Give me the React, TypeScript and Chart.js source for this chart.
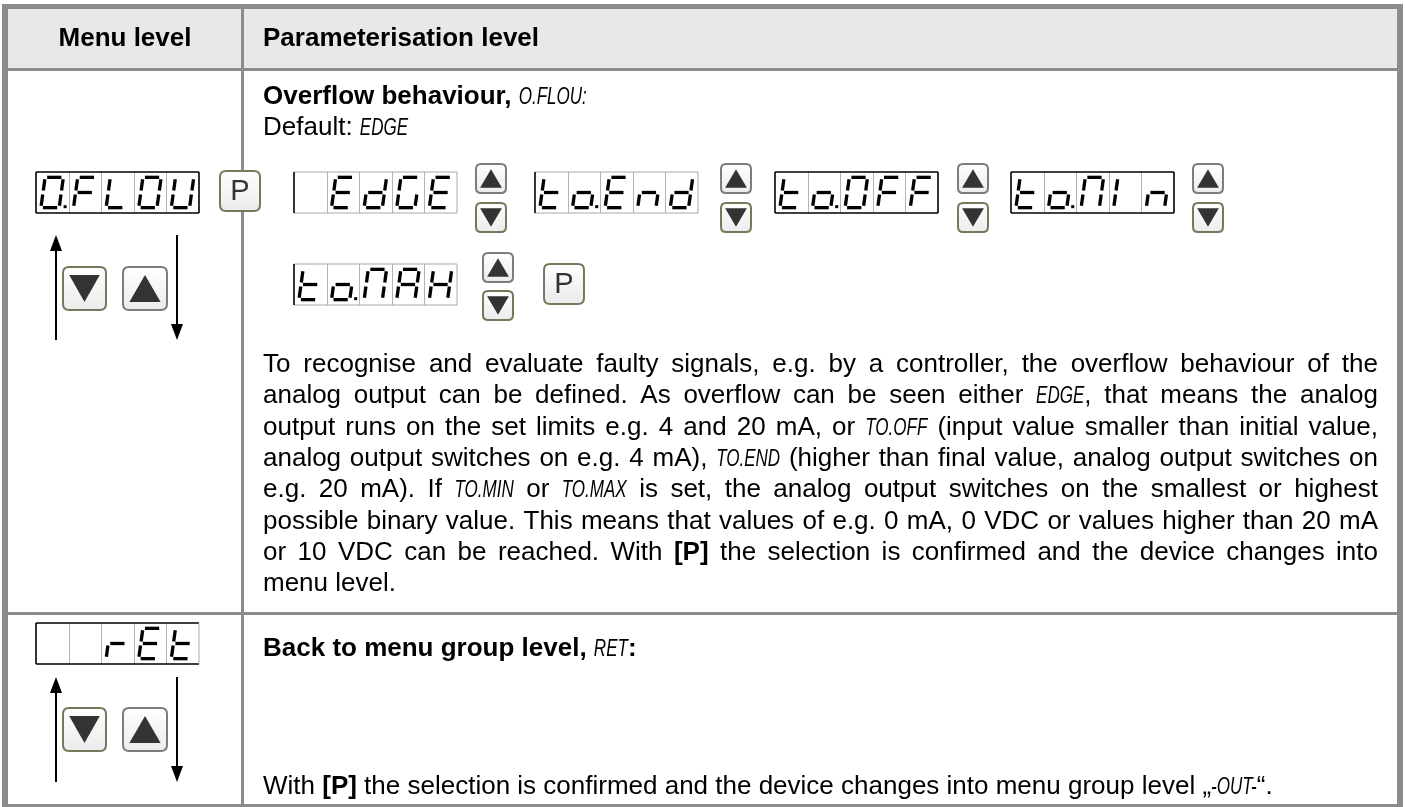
import React, { useEffect, useRef } from "react";
import { Chart, registerables } from "chart.js";

Chart.register(...registerables);

// ---------------- data ----------------
const headerLabels = ["Menu level", "Parameterisation level"];
const menuCodes = ["O.FLOU", "  rEt"];
const optionCodes = [" EdGE", "to.End", "to.OFF", "to.MIn"];
const optionCodesRow2 = ["to.MAH"];
const optionBorders = ["light", "light", "black", "black"];
const row1Title = "*Overflow behaviour,* {O.FLOU:}";
const row1Default = "Default: {EDGE}";
const paragraphLines = [
  "To recognise and evaluate faulty signals, e.g. by a controller, the overflow behaviour of the",
  "analog output can be defined. As overflow can be seen either {EDGE}, that means the analog",
  "output runs on the set limits e.g. 4 and 20 mA, or {TO.OFF} (input value smaller than initial value,",
  "analog output switches on e.g. 4 mA), {TO.END} (higher than final value, analog output switches on",
  "e.g. 20 mA). If {TO.MIN} or {TO.MAX} is set, the analog output switches on the smallest or highest",
  "possible binary value. This means that values of e.g. 0 mA, 0 VDC or values higher than 20 mA",
  "or 10 VDC can be reached. With *[P]* the selection is confirmed and the device changes into",
  "menu level.",
];
const row2Title = "*Back to menu group level,* {RET}*:*";
const row2Last = "With *[P]* the selection is confirmed and the device changes into menu group level \u201E{-OUT-}\u201C.";

const segMap: Record<string, string> = {
  "0": "abcdef", O: "abcdef", F: "aefg", L: "def", U: "bcdef", E: "adefg",
  d: "bcdeg", G: "acdef", t: "defg", o: "cdeg", n: "ceg", M: "abcef",
  I: "ef", A: "abcefg", H: "bcefg", r: "eg", " ": "",
};

// ---------------- layout ----------------
const W = 1405;
const H = 807;
const FONT = '"Liberation Sans", Arial, sans-serif';
const FS = 26;
const LINE = 31.3;
const TEXT_X = 263;
const TEXT_R = 1378;
const GRID = "#8c8c8c";

type Run = { text: string; style: "n" | "b" | "l" };

function parseRuns(s: string): Run[] {
  const parts = s.split(/(\{[^}]*\}|\*[^*]*\*)/).filter((p) => p.length);
  return parts.map((p) => {
    if (p.startsWith("{")) return { text: p.slice(1, -1), style: "l" as const };
    if (p.startsWith("*")) return { text: p.slice(1, -1), style: "b" as const };
    return { text: p, style: "n" as const };
  });
}

function setFont(ctx: CanvasRenderingContext2D, style: string) {
  if (style === "b") ctx.font = `bold ${FS}px ${FONT}`;
  else if (style === "l") ctx.font = `italic ${FS - 3}px ${FONT}`;
  else ctx.font = `${FS}px ${FONT}`;
}
const LCD_SX = 0.74;

function runWidth(ctx: CanvasRenderingContext2D, r: Run) {
  setFont(ctx, r.style);
  const w = ctx.measureText(r.text).width;
  return r.style === "l" ? w * LCD_SX : w;
}

function drawRun(ctx: CanvasRenderingContext2D, r: Run, x: number, y: number) {
  setFont(ctx, r.style);
  if (r.style === "l") {
    ctx.save();
    ctx.translate(x, y);
    ctx.scale(LCD_SX, 1);
    ctx.fillText(r.text, 0, 0);
    ctx.restore();
  } else ctx.fillText(r.text, x, y);
}

function drawLine(ctx: CanvasRenderingContext2D, s: string, x: number, yc: number, justifyTo: number | null) {
  const runs = parseRuns(s);
  const words: Run[][] = [[]];
  runs.forEach((r) => {
    const pieces = r.text.split(" ");
    pieces.forEach((p, i) => {
      if (i > 0) words.push([]);
      if (p.length) words[words.length - 1].push({ text: p, style: r.style });
    });
  });
  const ws = words.filter((w) => w.length);
  setFont(ctx, "n");
  const sp = ctx.measureText(" ").width;
  const widths = ws.map((w) => w.reduce((a, r) => a + runWidth(ctx, r), 0));
  const natural = widths.reduce((a, b) => a + b, 0) + sp * (ws.length - 1);
  let gap = sp;
  if (justifyTo !== null && ws.length > 1) gap = sp + (justifyTo - x - natural) / (ws.length - 1);
  let cx = x;
  const base = yc + 8;
  ctx.fillStyle = "#000";
  ctx.textBaseline = "alphabetic";
  ws.forEach((w) => {
    w.forEach((r) => {
      drawRun(ctx, r, cx, base);
      cx += runWidth(ctx, r);
    });
    cx += gap;
  });
}

function drawDisplay(ctx: CanvasRenderingContext2D, x: number, y: number, w: number, h: number, code: string, border: string) {
  const cells: { ch: string; dp: boolean }[] = [];
  for (const c of code) {
    if (c === "." && cells.length) cells[cells.length - 1].dp = true;
    else cells.push({ ch: c, dp: false });
  }
  const cw = w / 5;
  ctx.fillStyle = "#fff";
  ctx.fillRect(x, y, w, h);
  ctx.strokeStyle = "#b4b4b4";
  ctx.lineWidth = 1;
  for (let i = 1; i < 5; i++) {
    ctx.beginPath();
    ctx.moveTo(Math.round(x + i * cw) + 0.5, y);
    ctx.lineTo(Math.round(x + i * cw) + 0.5, y + h);
    ctx.stroke();
  }
  const edge = (x0: number, y0: number, x1: number, y1: number, col: string) => {
    ctx.strokeStyle = col;
    ctx.lineWidth = col === "#000" ? 1.6 : 1;
    ctx.beginPath();
    ctx.moveTo(x0, y0);
    ctx.lineTo(x1, y1);
    ctx.stroke();
  };
  const blk = "#000";
  const lt = "#a8a8a8";
  edge(x, y, x + w, y, border === "black" || border === "mixed" ? blk : lt);
  edge(x, y + h, x + w, y + h, border === "black" || border === "mixed" ? blk : lt);
  edge(x + w, y, x + w, y + h, border === "black" ? blk : lt);
  edge(x, y, x, y + h, blk);

  cells.forEach((cell, i) => {
    const cx = x + i * cw;
    const segs = segMap[cell.ch] ?? "";
    const gw = cw * 0.56;
    const gh = h * 0.74;
    const gx = cx + cw * 0.15;
    const gy = y + h * 0.13;
    const sl = 0.14;
    const P = (px: number, py: number): [number, number] => [gx + px + (gh - py) * sl, gy + py];
    const g = 2;
    const defs: Record<string, [number, number, number, number]> = {
      a: [g, 0, gw - g, 0],
      b: [gw, g, gw, gh / 2 - g],
      c: [gw, gh / 2 + g, gw, gh - g],
      d: [g, gh, gw - g, gh],
      e: [0, gh / 2 + g, 0, gh - g],
      f: [0, g, 0, gh / 2 - g],
      g: [g, gh / 2, gw - g, gh / 2],
    };
    ctx.strokeStyle = "#000";
    ctx.lineWidth = 3.3;
    ctx.lineCap = "butt";
    for (const s of segs) {
      const d = defs[s];
      const p0 = P(d[0], d[1]);
      const p1 = P(d[2], d[3]);
      ctx.beginPath();
      ctx.moveTo(p0[0], p0[1]);
      ctx.lineTo(p1[0], p1[1]);
      ctx.stroke();
    }
    if (cell.dp) {
      ctx.fillStyle = "#000";
      ctx.fillRect(cx + cw - 5, gy + gh - 2.5, 3, 3);
    }
  });
}

function roundRect(ctx: CanvasRenderingContext2D, x: number, y: number, w: number, h: number, r: number) {
  ctx.beginPath();
  ctx.moveTo(x + r, y);
  ctx.lineTo(x + w - r, y);
  ctx.quadraticCurveTo(x + w, y, x + w, y + r);
  ctx.lineTo(x + w, y + h - r);
  ctx.quadraticCurveTo(x + w, y + h, x + w - r, y + h);
  ctx.lineTo(x + r, y + h);
  ctx.quadraticCurveTo(x, y + h, x, y + h - r);
  ctx.lineTo(x, y + r);
  ctx.quadraticCurveTo(x, y, x + r, y);
  ctx.closePath();
}

function drawButtonFrame(ctx: CanvasRenderingContext2D, x: number, y: number, w: number, h: number, col: string) {
  const gr = ctx.createLinearGradient(0, y, 0, y + h);
  gr.addColorStop(0, "#ffffff");
  gr.addColorStop(1, "#ebebeb");
  roundRect(ctx, x + 1, y + 1, w - 2, h - 2, Math.min(6, w * 0.16));
  ctx.fillStyle = gr;
  ctx.fill();
  ctx.strokeStyle = col;
  ctx.lineWidth = 2;
  ctx.stroke();
}

function drawTriBtn(ctx: CanvasRenderingContext2D, x: number, y: number, w: number, h: number, up: boolean) {
  drawButtonFrame(ctx, x, y, w, h, up ? "#7c7c7c" : "#77775b");
  const cx = x + w / 2;
  const tw = w * 0.68;
  const t0 = y + h * 0.2;
  const t1 = y + h * 0.8;
  ctx.fillStyle = "#333";
  ctx.beginPath();
  if (up) {
    ctx.moveTo(cx, t0);
    ctx.lineTo(cx - tw / 2, t1);
    ctx.lineTo(cx + tw / 2, t1);
  } else {
    ctx.moveTo(cx, t1);
    ctx.lineTo(cx - tw / 2, t0);
    ctx.lineTo(cx + tw / 2, t0);
  }
  ctx.closePath();
  ctx.fill();
}

function drawPBtn(ctx: CanvasRenderingContext2D, x: number, y: number, s: number) {
  drawButtonFrame(ctx, x, y, s, s, "#77775b");
  ctx.fillStyle = "#333";
  ctx.font = `${Math.round(s * 0.68)}px ${FONT}`;
  ctx.textAlign = "center";
  ctx.textBaseline = "middle";
  ctx.fillText("P", x + s / 2, y + s / 2 + 1);
  ctx.textAlign = "left";
  ctx.textBaseline = "alphabetic";
}

function drawVArrow(ctx: CanvasRenderingContext2D, x: number, y0: number, y1: number, up: boolean) {
  ctx.strokeStyle = "#000";
  ctx.lineWidth = 2;
  ctx.beginPath();
  if (up) {
    ctx.moveTo(x, y0 + 12);
    ctx.lineTo(x, y1);
  } else {
    ctx.moveTo(x, y0);
    ctx.lineTo(x, y1 - 12);
  }
  ctx.stroke();
  ctx.fillStyle = "#000";
  ctx.beginPath();
  if (up) {
    ctx.moveTo(x, y0);
    ctx.lineTo(x - 6, y0 + 16);
    ctx.lineTo(x + 6, y0 + 16);
  } else {
    ctx.moveTo(x, y1);
    ctx.lineTo(x - 6, y1 - 16);
    ctx.lineTo(x + 6, y1 - 16);
  }
  ctx.closePath();
  ctx.fill();
}

const tablePlugin = {
  id: "menuTable",
  afterDraw(chart: any) {
    const ctx: CanvasRenderingContext2D = chart.ctx;
    const xs = chart.scales.x;
    const ys = chart.scales.y;
    const X = (v: number) => xs.getPixelForValue(v);
    const Y = (v: number) => ys.getPixelForValue(v);
    ctx.save();
    ctx.fillStyle = "#fff";
    ctx.fillRect(0, 0, W, H);

    const colX = 242;
    const headTop = 9;
    const headBot = 69;
    const rowDiv = 613;
    const bottom = 804;

    ctx.fillStyle = "#e8e8e8";
    ctx.fillRect(X(7), Y(headTop), X(1397) - X(7), Y(headBot) - Y(headTop));

    ctx.fillStyle = GRID;
    ctx.fillRect(X(7), Y(headBot) - 1, X(1397) - X(7), 3);
    ctx.fillRect(X(7), Y(rowDiv) - 1, X(1397) - X(7), 3);
    ctx.fillRect(X(colX) - 1, Y(headTop), 3, Y(bottom) - Y(headTop));
    ctx.fillRect(X(2), Y(4), X(1403) - X(2), 5);
    ctx.fillRect(X(2), Y(4), 6, Y(807) - Y(4));
    ctx.fillRect(X(1397), Y(4), 6, Y(807) - Y(4));
    ctx.fillRect(X(2), Y(bottom), X(1403) - X(2), 3);

    ctx.fillStyle = "#000";
    ctx.font = `bold ${FS}px ${FONT}`;
    ctx.textAlign = "center";
    ctx.fillText(headerLabels[0], X(125), Y(37) + 9);
    ctx.textAlign = "left";
    ctx.fillText(headerLabels[1], X(TEXT_X), Y(37) + 9);

    drawLine(ctx, row1Title, X(TEXT_X), Y(96), null);
    drawLine(ctx, row1Default, X(TEXT_X), Y(127), null);
    paragraphLines.forEach((l, i) => {
      const last = i === paragraphLines.length - 1;
      drawLine(ctx, l, X(TEXT_X), Y(364 + i * LINE), last ? null : X(TEXT_R));
    });

    drawLine(ctx, row2Title, X(TEXT_X), Y(648), null);
    drawLine(ctx, row2Last, X(TEXT_X), Y(786), null);

    const DW = 163;
    const DH = 41;
    drawDisplay(ctx, X(36), Y(172), DW, DH, menuCodes[0], "black");
    drawDisplay(ctx, X(36), Y(623), DW, DH, menuCodes[1], "mixed");

    drawPBtn(ctx, X(219), Y(170), 42);

    const optX = [294, 535, 775, 1011];
    const btnX = [475, 720, 957, 1192];
    optionCodes.forEach((c, i) => {
      drawDisplay(ctx, X(optX[i]), Y(172), DW, DH, c, optionBorders[i]);
      drawTriBtn(ctx, X(btnX[i]), Y(163), 32, 31, true);
      drawTriBtn(ctx, X(btnX[i]), Y(202), 32, 31, false);
    });
    drawDisplay(ctx, X(294), Y(264), DW, DH, optionCodesRow2[0], "light");
    drawTriBtn(ctx, X(482), Y(252), 32, 31, true);
    drawTriBtn(ctx, X(482), Y(290), 32, 31, false);
    drawPBtn(ctx, X(543), Y(263), 42);

    const leftGroups = [
      { a0: 235, a1: 340, b: 266 },
      { a0: 677, a1: 782, b: 707 },
    ];
    leftGroups.forEach((g) => {
      drawVArrow(ctx, X(56), Y(g.a0), Y(g.a1), true);
      drawVArrow(ctx, X(177), Y(g.a0), Y(g.a1), false);
      drawTriBtn(ctx, X(62), Y(g.b), 45, 45, false);
      drawTriBtn(ctx, X(122), Y(g.b), 46, 45, true);
    });
    ctx.restore();
  },
};

export default function App() {
  const ref = useRef<HTMLCanvasElement | null>(null);
  useEffect(() => {
    document.body.style.margin = "0";
    const canvas = ref.current;
    if (!canvas) return;
    const chart = new Chart(canvas, {
      type: "scatter",
      data: { datasets: [{ data: [] }] },
      options: {
        animation: false,
        responsive: false,
        devicePixelRatio: 1,
        layout: { padding: 0 },
        plugins: { legend: { display: false }, tooltip: { enabled: false } },
        scales: {
          x: { type: "linear", min: 0, max: W, display: false },
          y: { type: "linear", min: 0, max: H, reverse: true, display: false },
        },
      },
      plugins: [tablePlugin],
    } as any);
    return () => chart.destroy();
  }, []);
  return (
    <div style={{ width: W, height: H }}>
      <canvas ref={ref} width={W} height={H} style={{ display: "block" }} />
    </div>
  );
}
